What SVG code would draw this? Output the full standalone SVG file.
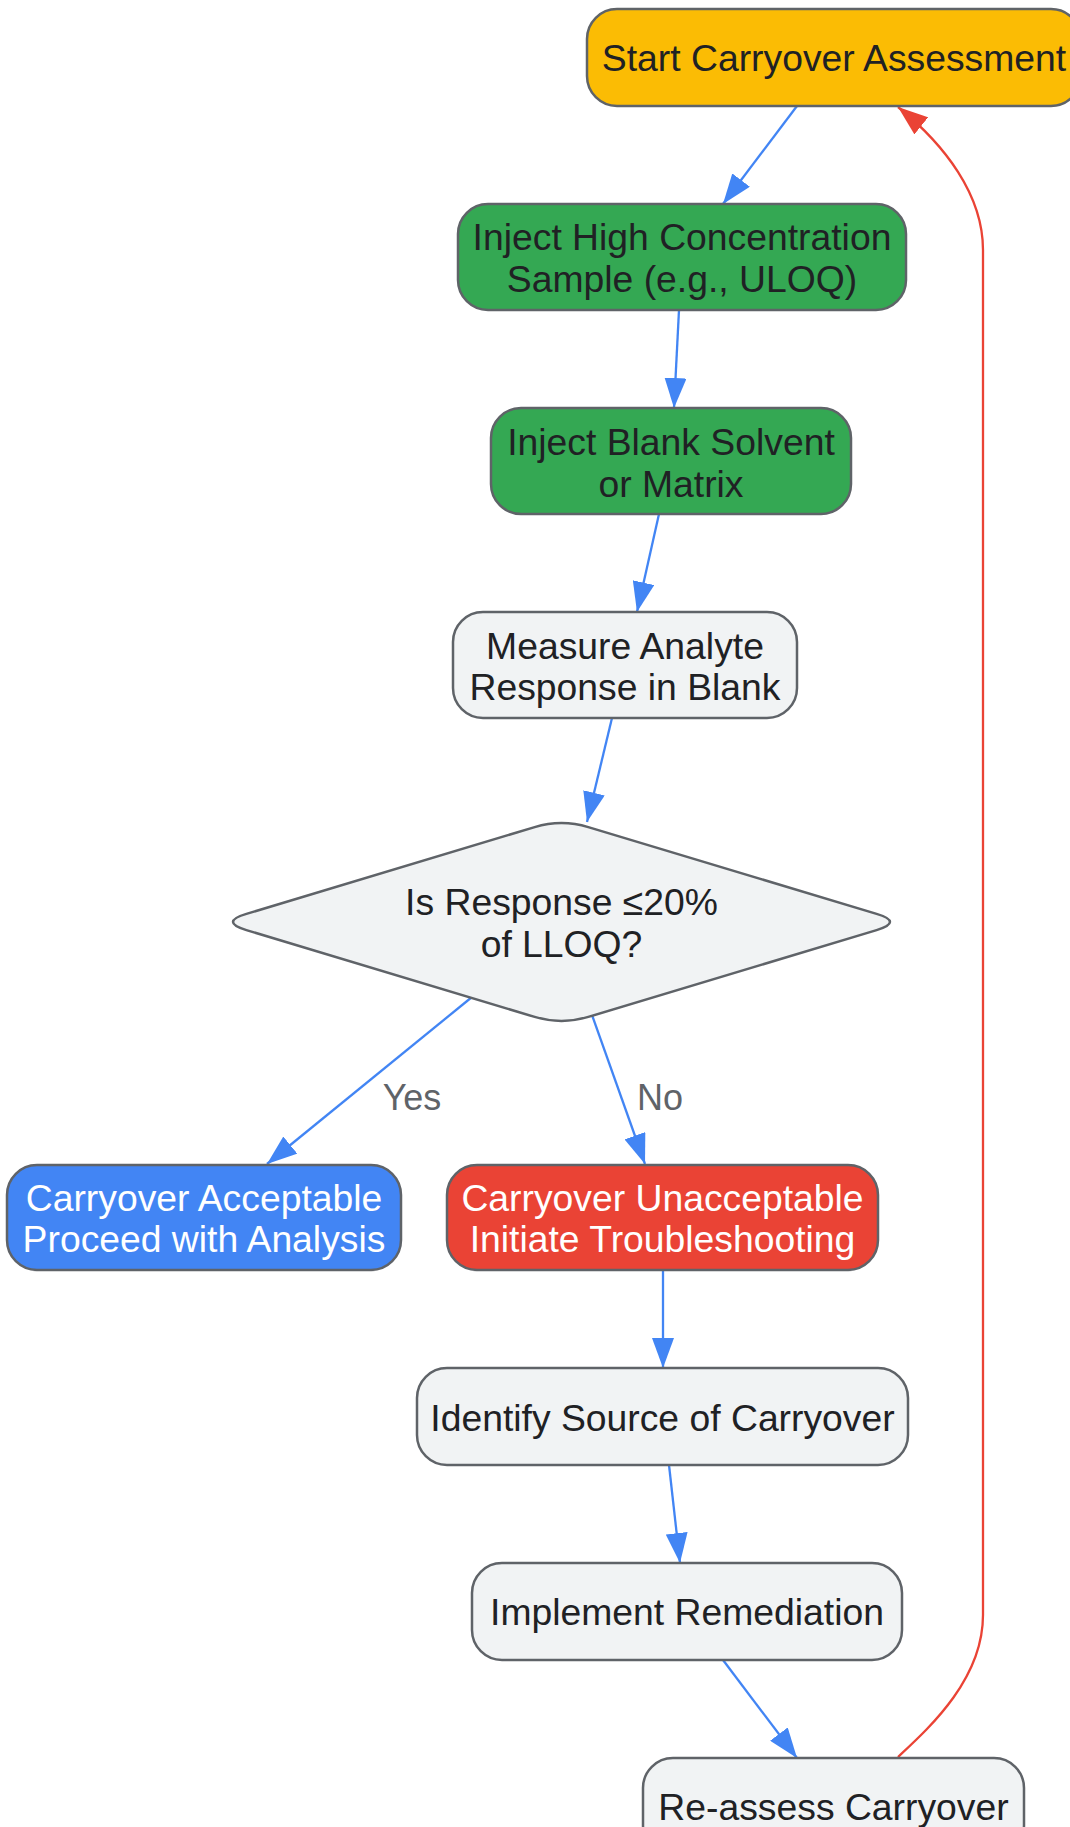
<svg xmlns="http://www.w3.org/2000/svg" width="1070" height="1827" viewBox="0 0 1070 1827">
<defs>
<style>
.n{stroke:#5f6368;stroke-width:2.5}
.t{font-family:"Liberation Sans",Arial,sans-serif;font-size:37.3px;text-anchor:middle;fill:#202124}
.w{fill:#ffffff}
.lbl{font-family:"Liberation Sans",Arial,sans-serif;font-size:36px;text-anchor:middle;fill:#5f6368}
.e{fill:none;stroke:#4285F4;stroke-width:2.3}
.er{fill:none;stroke:#EA4335;stroke-width:2.3}
</style>
<marker id="ab" markerUnits="userSpaceOnUse" viewBox="0 0 30 22" refX="30" refY="11" markerWidth="30" markerHeight="22" orient="auto"><path d="M0,0 L30,11 L0,22 z" fill="#4285F4"/></marker>
<marker id="ar" markerUnits="userSpaceOnUse" viewBox="0 0 30 22" refX="30" refY="11" markerWidth="30" markerHeight="22" orient="auto"><path d="M0,0 L30,11 L0,22 z" fill="#EA4335"/></marker>
</defs>
<rect x="0" y="0" width="1070" height="1827" fill="#ffffff"/>
<g id="connectors">
<path class="e" d="M797,106 L723,204" marker-end="url(#ab)"/>
<path class="e" d="M679,310 L674,408" marker-end="url(#ab)"/>
<path class="e" d="M659,514 L637,612" marker-end="url(#ab)"/>
<path class="e" d="M612,718 L587,822" marker-end="url(#ab)"/>
<path class="e" d="M472,997 L267,1164" marker-end="url(#ab)"/>
<path class="e" d="M592,1015 L645,1164" marker-end="url(#ab)"/>
<path class="e" d="M663,1270 L663,1368" marker-end="url(#ab)"/>
<path class="e" d="M669,1465 L680,1563" marker-end="url(#ab)"/>
<path class="e" d="M723,1660 L797,1758" marker-end="url(#ab)"/>
<path class="er" d="M898,1757 C928,1729 983,1680 983,1615 L983,250 C983,195 945,145 898,107" marker-end="url(#ar)"/>
<text class="lbl" x="412" y="1110">Yes</text>
<text class="lbl" x="660" y="1110">No</text>
</g>
<g id="start">
<rect class="n" x="587" y="9" width="494" height="97" rx="30" fill="#FBBC04"/>
<text class="t" x="834" y="71">Start Carryover Assessment</text>
</g>
<g id="injectHigh">
<rect class="n" x="458" y="204" width="448" height="106" rx="30" fill="#34A853"/>
<text class="t" x="682" y="250">Inject High Concentration</text>
<text class="t" x="682" y="292">Sample (e.g., ULOQ)</text>
</g>
<g id="injectBlank">
<rect class="n" x="491" y="408" width="360" height="106" rx="30" fill="#34A853"/>
<text class="t" x="671" y="455">Inject Blank Solvent</text>
<text class="t" x="671" y="497">or Matrix</text>
</g>
<g id="measure">
<rect class="n" x="453" y="612" width="344" height="106" rx="30" fill="#F1F3F4"/>
<text class="t" x="625" y="659">Measure Analyte</text>
<text class="t" x="625" y="700">Response in Blank</text>
</g>
<g id="decision">
<path class="n" fill="#F1F3F4" d="M534.69,827.08 Q561.5,819 588.31,827.08 L876.59,913.92 Q903.4,922 876.59,930.08 L588.31,1016.92 Q561.5,1025 534.69,1016.92 L246.41,930.08 Q219.6,922 246.41,913.92 Z"/>
<text class="t" x="561.5" y="915">Is Response ≤20%</text>
<text class="t" x="561.5" y="957">of LLOQ?</text>
</g>
<g id="acceptable">
<rect class="n" x="7" y="1165" width="394" height="105" rx="30" fill="#4285F4"/>
<text class="t w" x="204" y="1211">Carryover Acceptable</text>
<text class="t w" x="204" y="1252">Proceed with Analysis</text>
</g>
<g id="unacceptable">
<rect class="n" x="447" y="1165" width="431" height="105" rx="30" fill="#EA4335"/>
<text class="t w" x="662.5" y="1211">Carryover Unacceptable</text>
<text class="t w" x="662.5" y="1252">Initiate Troubleshooting</text>
</g>
<g id="identify">
<rect class="n" x="417" y="1368" width="491" height="97" rx="30" fill="#F1F3F4"/>
<text class="t" x="662.5" y="1431">Identify Source of Carryover</text>
</g>
<g id="implement">
<rect class="n" x="472" y="1563" width="430" height="97" rx="30" fill="#F1F3F4"/>
<text class="t" x="687" y="1625">Implement Remediation</text>
</g>
<g id="reassess">
<rect class="n" x="643" y="1758" width="381" height="97" rx="30" fill="#F1F3F4"/>
<text class="t" x="833.5" y="1820">Re-assess Carryover</text>
</g>
</svg>
